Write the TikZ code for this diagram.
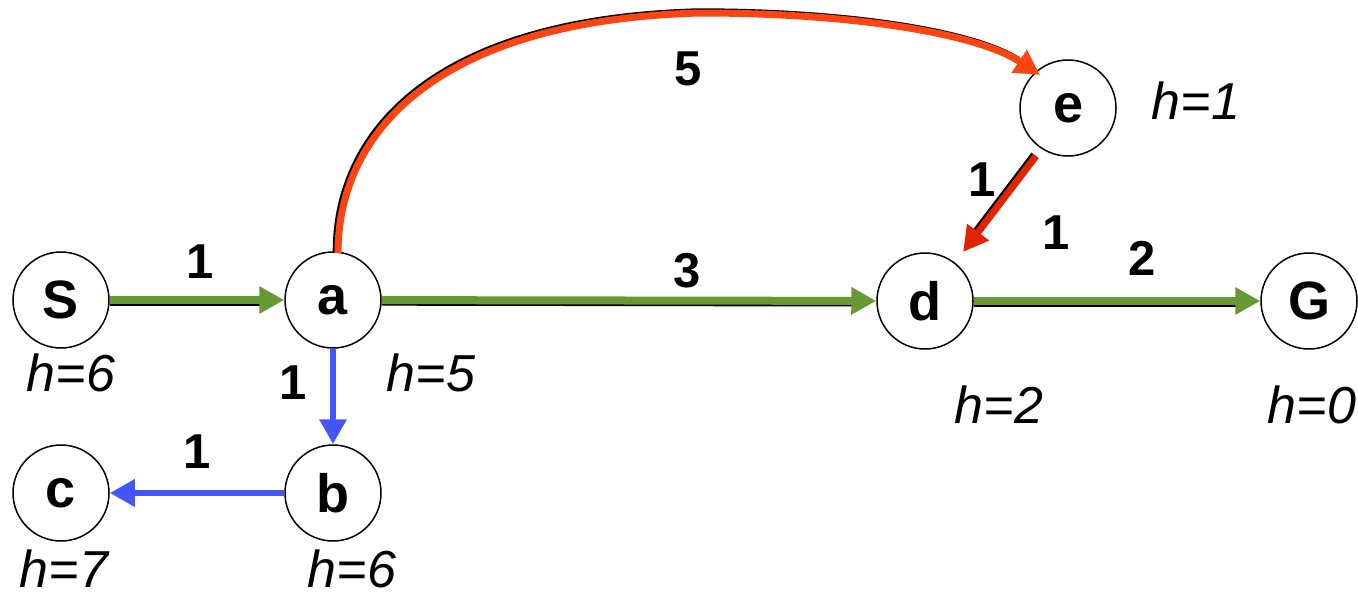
\documentclass[tikz,border=0pt]{standalone}
\usepackage{fontspec}
\setmainfont{Liberation Sans}
\usetikzlibrary{arrows.meta}
\definecolor{egreen}{RGB}{102,153,51}
\definecolor{eblue}{RGB}{68,85,255}
\definecolor{ered}{RGB}{255,68,20}
\definecolor{edred}{RGB}{225,35,0}
\tikzset{
  x=0.5pt, y=-0.5pt,
  state/.style={circle, draw=black, line width=0.75pt, fill=white, minimum size=48pt, inner sep=0pt,
    font=\fontsize{27}{30}\selectfont\bfseries},
  hlab/.style={font=\fontsize{26}{30}\selectfont\itshape, inner sep=0pt},
  wlab/.style={font=\fontsize{24.5}{28}\selectfont\bfseries, inner sep=0pt},
  tip/.style={-{Triangle[length=12.5pt,width=13pt]}},
  greenedge/.style={draw=egreen, line width=4pt, tip},
  blueedge/.style={draw=eblue, line width=3.3pt, tip},
  rededge/.style={draw=ered, line width=3.5pt, tip},
  darkrededge/.style={draw=edred, line width=3.5pt, tip},
  shadow/.style={draw=black, line width=4pt},
}
\begin{document}
\begin{tikzpicture}
\useasboundingbox (0,0) rectangle (1358,600);
% nodes
\node[state] (S) at (61,300) {S};
\node[state] (a) at (333,300) {a};
\node[state] (b) at (333,493) {b};
\node[state] (c) at (61,493) {c};
\node[state] (d) at (925,301) {d};
\node[state] (G) at (1309,301) {G};
\node[state] (e) at (1068,108) {e};
% h labels
\node[hlab] (hS) at (71,373) {h=6};
\node[hlab] (ha) at (431,373) {h=5};
\node[hlab] (hb) at (352,569) {h=6};
\node[hlab] (hc) at (64,569) {h=7};
\node[hlab] (hd) at (999,405) {h=2};
\node[hlab] (hG) at (1312,405) {h=0};
\node[hlab] (he) at (1196,101) {h=1};
% weight labels
\node[wlab] (wSa) at (200,262) {1};
\node[wlab] (wad) at (687,271) {3};
\node[wlab] (wdG) at (1142,258) {2};
\node[wlab] (wab) at (293,383) {1};
\node[wlab] (wbc) at (197,452) {1};
\node[wlab] (wae) at (688,69) {5};
\node[wlab] (wed1) at (982,180) {1};
\node[wlab] (wed2) at (1056,233) {1};
% connector helper coordinates
\coordinate (eT) at (1040,75);
\coordinate (aT) at (338,253);
\coordinate (eB) at (1036,156);
\coordinate (dT) at (963,252);
% shadows
\begin{scope}[transform canvas={yshift=-0.8pt}]
\draw[shadow, shorten >=12pt] (S) -- (a);
\draw[shadow, shorten >=12pt] (a) -- (d);
\draw[shadow, shorten >=12pt] (d) -- (G);
\end{scope}
\begin{scope}[transform canvas={xshift=-0.9pt, yshift=0.6pt}]
\draw[shadow, line width=3.5pt, shorten >=12pt] (aT) .. controls (338,130) and (440,20) .. (700,13) .. controls (860,13) and (980,35) .. (eT);
\draw[shadow, line width=3.5pt, shorten >=12pt] (eB) -- (dT);
\end{scope}
% edges
\draw[greenedge] (S) -- (a);
\draw[greenedge] (a) -- (d);
\draw[greenedge] (d) -- (G);
\draw[blueedge] (a) -- (b);
\draw[blueedge] (b) -- (c);
\draw[rededge] (aT) .. controls (338,130) and (440,20) .. (700,13) .. controls (860,13) and (980,35) .. (eT);
\draw[darkrededge] (eB) -- (dT);
\end{tikzpicture}
\end{document}
